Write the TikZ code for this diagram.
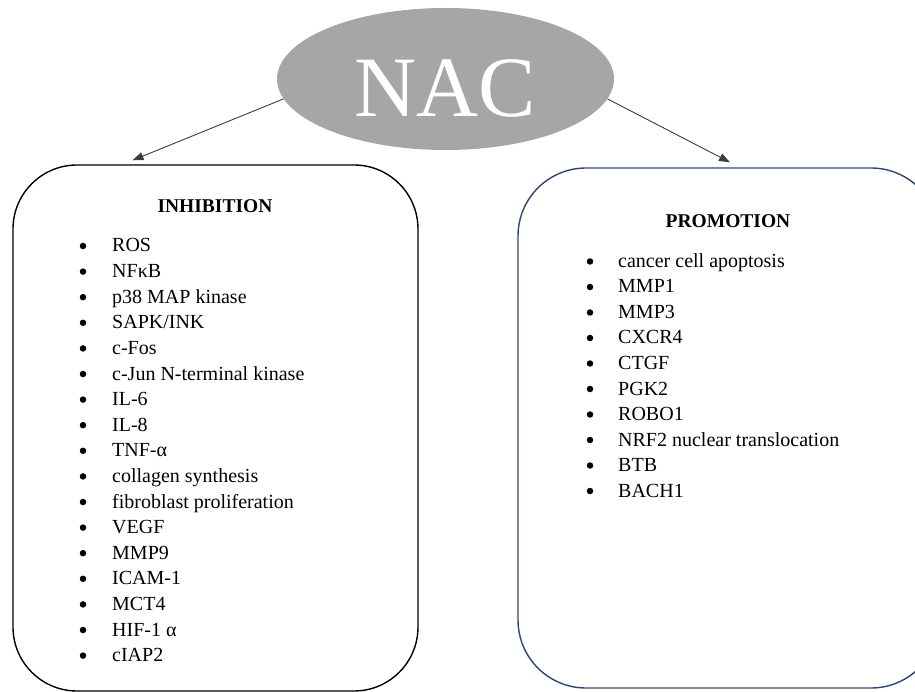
\documentclass[tikz,border=0pt]{standalone}
\usepackage{fontspec}
\setmainfont{Liberation Serif}
\usepackage{xcolor}
\usetikzlibrary{arrows.meta,positioning,shapes}

\definecolor{nacgray}{RGB}{166,166,166}
\definecolor{promoblue}{RGB}{47,70,115}
\definecolor{arrowgray}{RGB}{60,60,60}

\begin{document}
\begin{tikzpicture}[
	x = 1pt, y = -1pt,
	nacnode/.style = {ellipse, fill = nacgray, inner sep = 0pt, minimum width = 337pt, minimum height = 142pt, text = white, font = \fontsize{86}{90}\selectfont, text height = 76pt},
	listbox/.style = {draw, line width = 1.4pt, fill = white},
	title/.style = {inner sep = 0pt, anchor = base, font = \fontsize{19.5}{22}\selectfont\bfseries},
	itm/.style = {inner sep = 0pt, anchor = base west, font = \fontsize{20}{24}\selectfont},
	bul/.style = {circle, fill = black, inner sep = 0pt, minimum size = 6.5pt},
	conn/.style = {-{Triangle[length = 11pt, width = 8pt]}, line width = 0.9pt, arrowgray}
	]
	
	\useasboundingbox (0, 0) rectangle (915, 692);
	\clip (0, 0) rectangle (915, 692);
	
	\node[nacnode] (nac) at (445.5, 79) {NAC};
	
	\node[listbox, rounded corners = 64pt, minimum width = 405pt, minimum height = 526pt] (inhib) at (215.5, 428) {};
	\node[listbox, draw = promoblue, rounded corners = 68pt, minimum width = 421pt, minimum height = 520pt] (promo) at (728.5, 428) {};
	
	\draw[conn] (nac.187) -- ([xshift = -83pt, yshift = 4pt]inhib.north);
	\draw[conn] (nac.353) -- ([xshift = 1.5pt, yshift = 5pt]promo.north);
	
	% left list
	\node[title] (inhtitle) at (215, 212.5) {INHIBITION};
	\foreach \txt [count = \i] in {ROS, NFκB, p38 MAP kinase, SAPK/INK, c-Fos, c-Jun N-terminal kinase, IL-6, IL-8, TNF-α, collagen synthesis, fibroblast proliferation, VEGF, MMP9, ICAM-1, MCT4, HIF-1 α, cIAP2} {
		\node[itm] (inh\i) at (112, {252 + 25.6*(\i - 1)}) {\txt};
		\node[bul] (inhb\i) at (83, {246 + 25.6*(\i - 1)}) {};
	}
	
	% right list
	\node[title] (protitle) at (728, 228) {PROMOTION};
	\foreach \txt [count = \i] in {cancer cell apoptosis, MMP1, MMP3, CXCR4, CTGF, PGK2, ROBO1, NRF2 nuclear translocation, BTB, BACH1} {
		\node[itm] (pro\i) at (618, {267.5 + 25.5*(\i - 1)}) {\txt};
		\node[bul] (prob\i) at (590, {261.5 + 25.5*(\i - 1)}) {};
	}

\end{tikzpicture}
\end{document}
